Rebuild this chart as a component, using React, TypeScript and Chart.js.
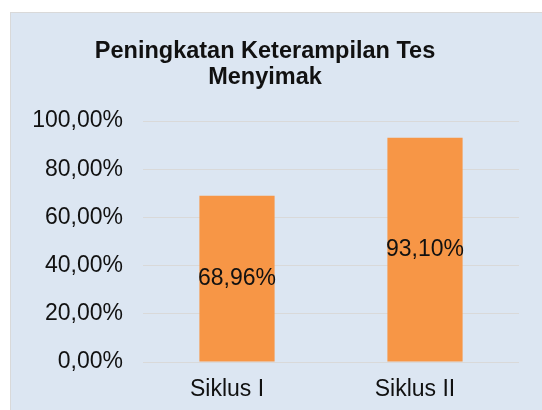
import React, { useEffect, useRef } from "react";
import { Chart, registerables } from "chart.js";

Chart.register(...registerables);

const categories = ["Siklus I", "Siklus II"];
const values = [68.96, 93.1];
const yTicks = [0, 20, 40, 60, 80, 100];
const titleLines = ["Peningkatan Keterampilan Tes", "Menyimak"];

const fmt = (v: number) => v.toFixed(2).replace(".", ",") + "%";

const FONT = "'Liberation Sans', Arial, sans-serif";

const dataLabelPlugin = {
  id: "barValueLabels",
  afterDatasetsDraw(chart: any) {
    const ctx = chart.ctx;
    const meta = chart.getDatasetMeta(0);
    ctx.save();
    ctx.font = `23px ${FONT}`;
    ctx.fillStyle = "#111";
    ctx.textAlign = "center";
    ctx.textBaseline = "middle";
    meta.data.forEach((bar: any, i: number) => {
      const { x, y, base } = bar.getProps(["x", "y", "base"], true);
      ctx.fillText(fmt(values[i]), x, (y + base) / 2);
    });
    ctx.restore();
  },
};

export default function App() {
  const ref = useRef<HTMLCanvasElement>(null);
  useEffect(() => {
    if (!ref.current) return;
    const chart = new Chart(ref.current, {
      type: "bar",
      data: {
        labels: categories,
        datasets: [
          {
            data: values,
            backgroundColor: "#f79646",
            borderWidth: 0,
            barPercentage: 0.4,
            categoryPercentage: 1,
          },
        ],
      },
      options: {
        responsive: false,
        animation: false,
        layout: { padding: { left: 0, right: 5, top: 0, bottom: 0 } },
        plugins: {
          legend: { display: false },
          tooltip: { enabled: false },
          title: {
            display: true,
            text: titleLines,
            color: "#111",
            font: { family: FONT, size: 23.5, weight: "bold", lineHeight: 26 / 23.5 },
            padding: { top: 26, bottom: 30 },
          },
        },
        scales: {
          x: {
            grid: { display: false, drawTicks: false },
            border: { display: false },
            ticks: {
              color: "#111",
              font: { family: FONT, size: 23 },
              padding: 14,
              labelOffset: -10,
            },
            afterFit: (s: any) => {
              s.height = 48;
            },
          },
          y: {
            min: 0,
            max: 100,
            afterBuildTicks: (s: any) => {
              s.ticks = yTicks.map((v) => ({ value: v }));
            },
            grid: { color: "#d9d9d9", lineWidth: 1, drawTicks: false },
            border: { display: false },
            ticks: {
              color: "#111",
              font: { family: FONT, size: 23 },
              padding: 20,
              callback: (v: any) => fmt(Number(v)),
            },
            afterFit: (s: any) => {
              s.width = 132;
            },
          },
        },
      },
      plugins: [dataLabelPlugin],
    });
    return () => chart.destroy();
  }, []);

  return (
    <div
      style={{
        position: "fixed",
        left: 10,
        top: 12,
        width: 532,
        height: 398,
        boxSizing: "border-box",
        background: "#dce6f2",
        borderLeft: "1px solid #d9d9d9",
        borderTop: "1px solid #d9d9d9",
        overflow: "hidden",
      }}
    >
      <canvas
        ref={ref}
        width={513}
        height={397}
        style={{ position: "absolute", left: 0, top: 0, display: "block" }}
      />
    </div>
  );
}
